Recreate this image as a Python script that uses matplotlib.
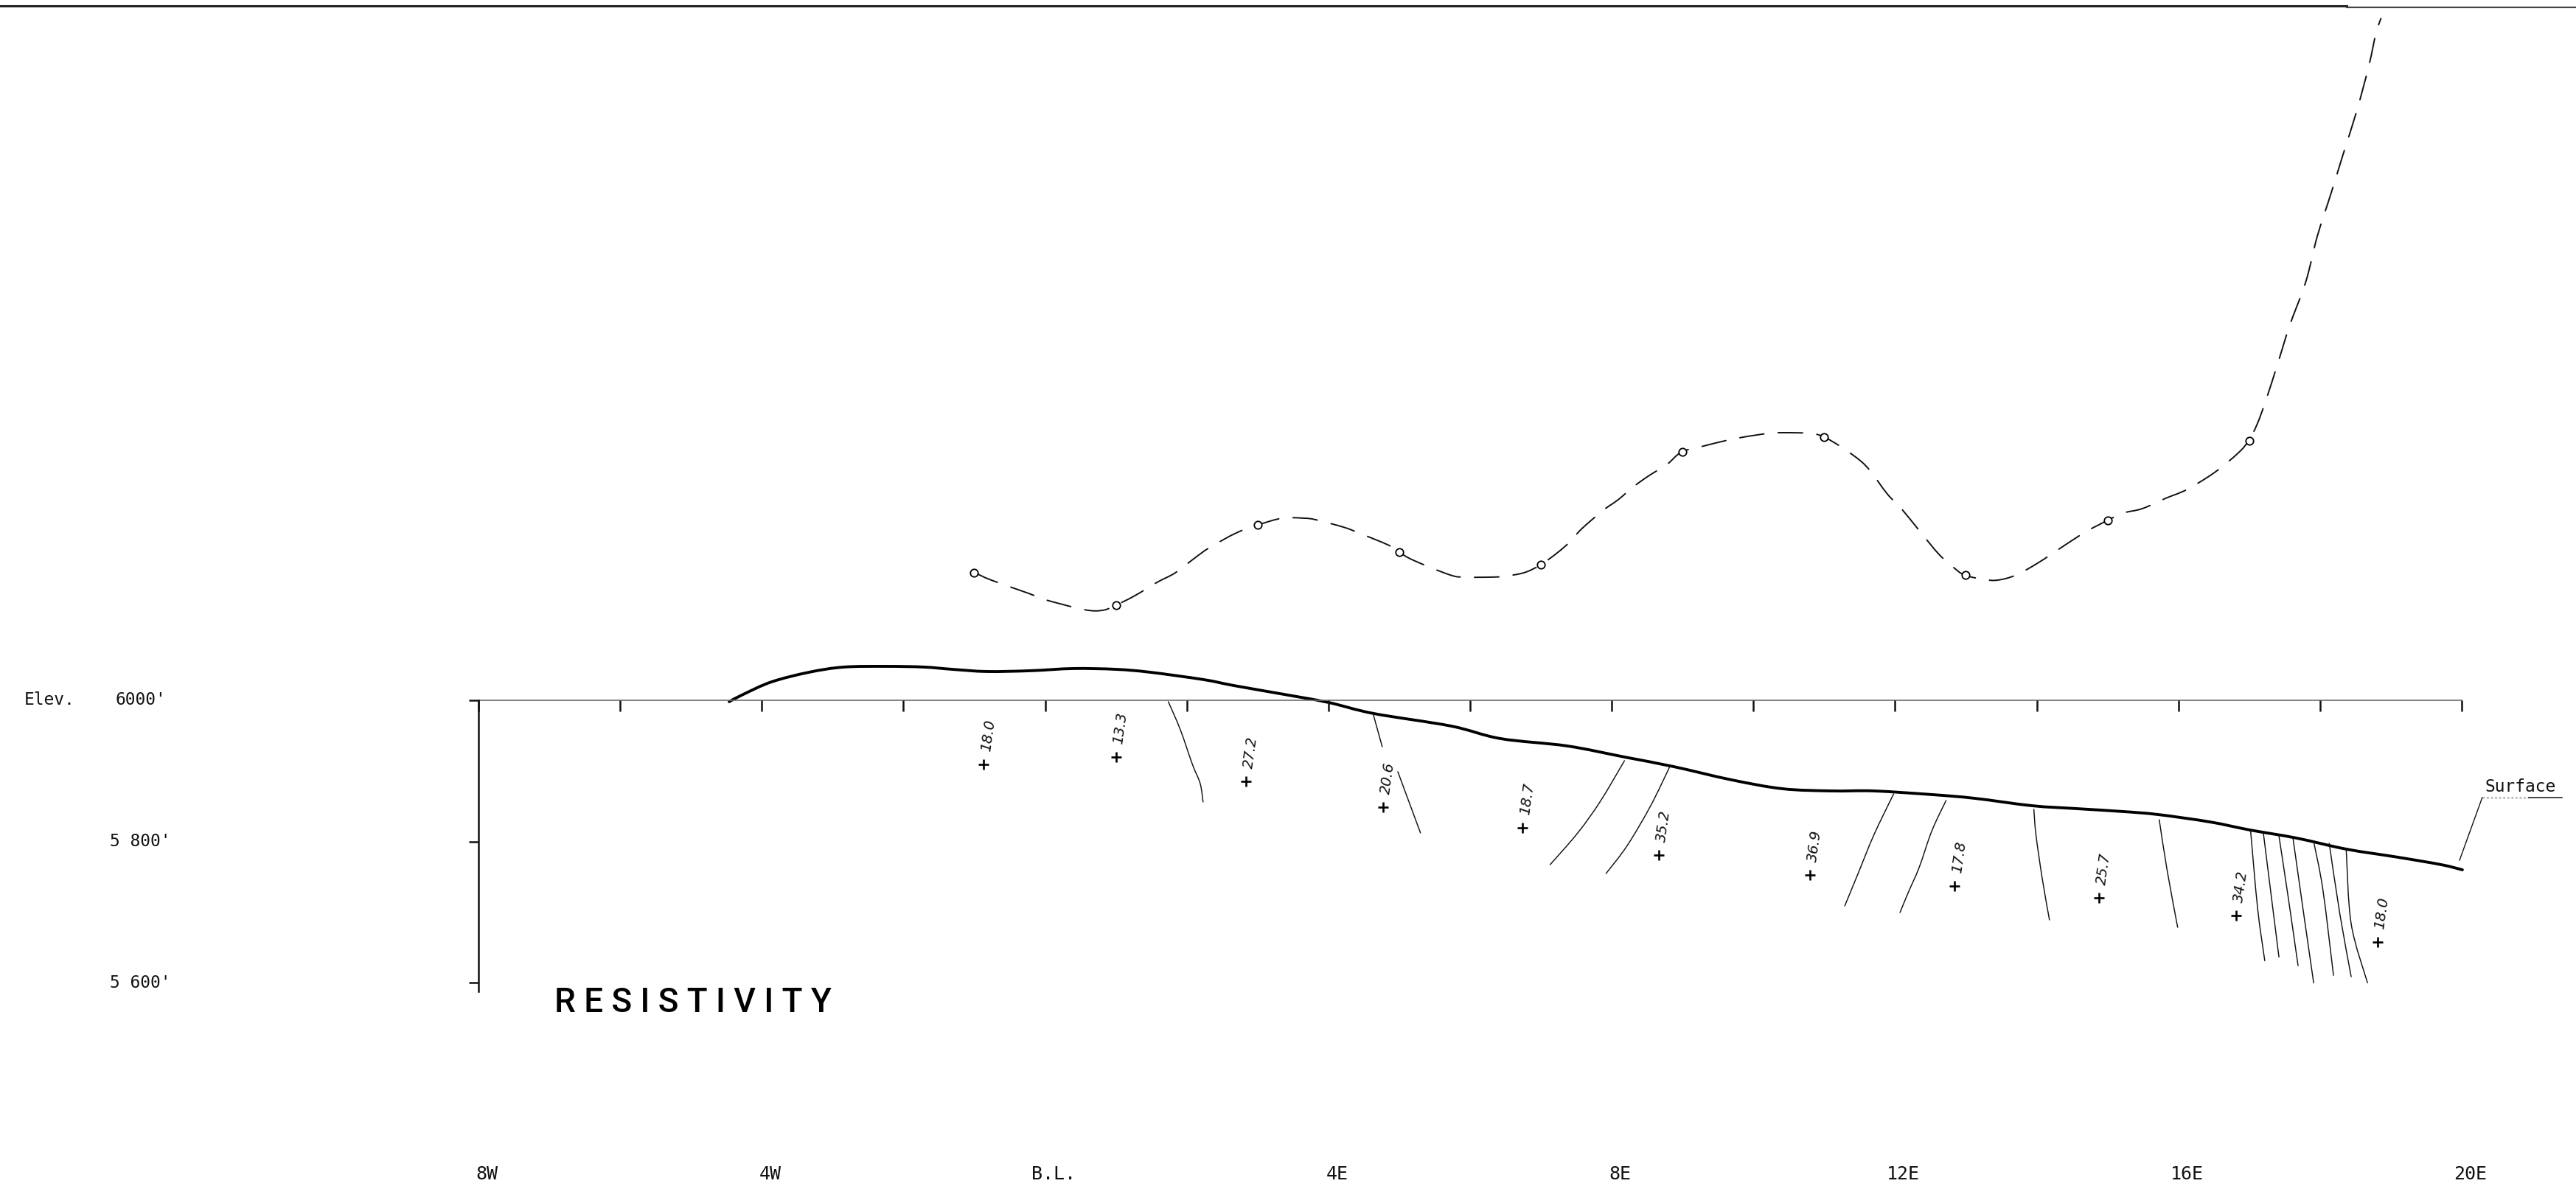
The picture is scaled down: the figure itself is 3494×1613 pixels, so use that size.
import matplotlib
matplotlib.use("Agg")
import numpy as np
import matplotlib.pyplot as plt
from matplotlib.path import Path
from matplotlib.patches import PathPatch
from matplotlib.transforms import blended_transform_factory

plt.rcParams["font.family"] = ["DejaVu Sans"]

# ---- traverse geometry -------------------------------------------------
# stations in hundreds of feet (W negative, E positive), elevations in feet
station_ticks = [-8, -6, -4, -2, 0, 2, 4, 6, 8, 10, 12, 14, 16, 18, 20]
station_label_pos = [-8, -4, 0, 4, 8, 12, 16, 20]
station_labels = ["8W", "4W", "B.L.", "4E", "8E", "12E", "16E", "20E"]

elev_ticks = [6000, 5800, 5600]
elev_labels = ["6000'", "5 800'", "5 600'"]

# ground surface profile
surface_station = [-4.46, -4.26, -3.86, -3.33, -2.84, -2.23, -1.71, -1.31, -0.82,
                   -0.21, 0.40, 1.00, 1.48, 2.24, 2.66, 3.37, 4.00, 4.64, 5.73,
                   6.43, 7.37, 8.18, 8.87, 9.69, 10.41, 11.10, 11.70, 12.52,
                   13.12, 13.93, 14.55, 15.22, 15.71, 16.44, 17.01, 17.67,
                   18.37, 19.10, 19.71, 20.01]
surface_elev = [5998.0, 6008.4, 6026.1, 6039.7, 6047.0, 6048.0, 6047.0, 6043.8,
                6040.7, 6041.8, 6044.9, 6043.8, 6039.7, 6029.2, 6020.9, 6008.4,
                5996.9, 5981.2, 5963.5, 5945.7, 5935.3, 5919.6, 5906.1, 5887.3,
                5874.7, 5871.6, 5871.6, 5866.4, 5861.2, 5850.7, 5846.6, 5842.4,
                5838.2, 5827.8, 5816.3, 5804.8, 5789.2, 5777.7, 5767.2, 5759.9]

# plotted resistivity readings
resist_station = [-0.87, 1.00, 2.84, 4.77, 6.74, 8.67, 10.80, 12.84, 14.88, 16.82, 18.81]
resist_elev = [5909.2, 5919.6, 5885.2, 5848.6, 5819.4, 5780.8, 5752.6, 5737.0,
               5720.3, 5695.2, 5657.6]
resist_labels = ["18.0", "13.3", "27.2", "20.6", "18.7", "35.2", "36.9", "17.8",
                 "25.7", "34.2", "18.0"]

# boundaries between resistivity zones (station, elevation)
bnd_1 = ([1.74, 1.91, 2.08, 2.19, 2.23], [5997.9, 5958.2, 5909.2, 5882.0, 5855.9])
bnd_2a = ([4.63, 4.76], [5981.2, 5934.2])
bnd_2b = ([4.98, 5.30], [5898.8, 5812.1])
bnd_3 = ([8.18, 7.84, 7.52, 7.13], [5914.4, 5857.0, 5812.1, 5767.2])
bnd_4 = ([8.82, 8.55, 8.22, 7.92], [5906.1, 5850.7, 5794.4, 5754.7])
bnd_5 = ([11.98, 11.70, 11.47, 11.29], [5867.4, 5809.0, 5752.6, 5708.8])
bnd_6 = ([12.72, 12.52, 12.34, 12.19, 12.07], [5858.0, 5815.2, 5763.1, 5728.6, 5699.4])
bnd_7 = ([13.96, 13.99, 14.08, 14.18], [5845.5, 5809.0, 5746.4, 5688.9])
bnd_8 = ([15.73, 15.84, 15.99], [5830.9, 5759.9, 5678.5])
bnd_9 = ([17.02, 17.12, 17.22], [5814.9, 5704.3, 5631.2])
bnd_10 = ([17.20, 17.30, 17.42], [5812.1, 5732.1, 5636.4])
bnd_11 = ([17.42, 17.55, 17.69], [5807.9, 5721.6, 5624.2])
bnd_12 = ([17.62, 17.77, 17.91], [5803.5, 5697.3, 5599.9])
bnd_13 = ([17.91, 18.04, 18.19], [5799.9, 5732.1, 5610.4])
bnd_14 = ([18.13, 18.28, 18.44], [5797.5, 5697.3, 5608.6])
bnd_15 = ([18.37, 18.44, 18.67], [5788.4, 5683.4, 5599.9])
boundaries = [bnd_1, bnd_2a, bnd_2b, bnd_3, bnd_4, bnd_5, bnd_6, bnd_7, bnd_8,
              bnd_9, bnd_10, bnd_11, bnd_12, bnd_13, bnd_14, bnd_15]

# upper profile: readings at odd stations and the curve drawn through them
profile_station = [-1, 1, 3, 5, 7, 9, 11, 13, 15, 17]
profile_value = [51.83, 49.10, 55.86, 53.56, 52.51, 62.00, 63.24, 51.64, 56.23, 62.93]

curve_station = [-0.99, -0.76, -0.23, -0.02, 0.55, 0.81, 1.00, 1.27, 1.58, 1.84,
                 2.10, 2.32, 2.70, 3.01, 3.35, 3.65, 3.82, 4.21, 4.43, 4.86,
                 5.00, 5.20, 5.72, 5.94, 6.28, 6.46, 6.76, 7.00, 7.23, 7.41,
                 7.57, 7.87, 8.09, 8.31, 8.53, 8.78, 8.99, 9.30, 9.60, 9.86,
                 10.21, 10.42, 10.81, 11.00, 11.25, 11.51, 11.66, 11.89, 12.09,
                 12.36, 12.62, 12.83, 12.98, 13.25, 13.45, 13.71, 14.03, 14.39,
                 14.70, 15.00, 15.22, 15.49, 15.82, 16.12, 16.51, 16.85, 16.99,
                 17.11, 17.24, 17.41, 17.57, 17.80, 17.96, 18.16, 18.33, 18.52,
                 18.69, 18.79, 18.86]
curve_value = [51.83, 51.21, 50.09, 49.60, 48.73, 48.67, 49.10, 49.91, 51.02, 51.83,
               53.01, 53.94, 55.18, 55.86, 56.42, 56.42, 56.29, 55.67, 55.18, 54.12,
               53.56, 52.88, 51.64, 51.46, 51.46, 51.52, 51.83, 52.51, 53.50, 54.43,
               55.49, 57.04, 57.97, 59.08, 60.01, 60.94, 62.00, 62.49, 62.93, 63.24,
               63.55, 63.61, 63.55, 63.24, 62.37, 61.25, 60.32, 58.46, 57.22,
               55.24, 53.38, 52.26, 51.64, 51.27, 51.21, 51.64, 52.70, 54.12,
               55.30, 56.23, 56.85, 57.22, 58.09, 58.83, 60.26, 61.93, 62.93,
               64.29, 66.40, 69.56, 72.60, 76.32, 80.10, 83.82, 87.10, 90.70,
               94.48, 97.21, 98.45]


def smooth_path(xs, ys):
    """Bezier path passing through every given vertex (Catmull-Rom tangents)."""
    p = np.column_stack([xs, ys]).astype(float)
    verts = [p[0]]
    codes = [Path.MOVETO]
    n = len(p)
    for i in range(n - 1):
        p0 = p[i - 1] if i > 0 else p[i]
        p1, p2 = p[i], p[i + 1]
        p3 = p[i + 2] if i + 2 < n else p[i + 1]
        verts += [p1 + (p2 - p0) / 6.0, p2 - (p3 - p1) / 6.0, p2]
        codes += [Path.CURVE4] * 3
    return Path(verts, codes)


# ---- figure -------------------------------------------------------------
fig = plt.figure(figsize=(34.94, 16.13), dpi=100)
ax = fig.add_axes([0, 0, 1, 1])
ax.set_xlim(-14.755, 21.614)
ax.set_ylim(5307.9, 6991.6)
ax.axis("off")

ink = "#111111"
lettering = ["DejaVu Sans Mono"]

# sheet border along the top
ax.plot([0, 0.911], [0.9952, 0.9952], transform=ax.transAxes, color="#222222", lw=2.2)
ax.plot([0.911, 1.0], [0.9938, 0.9938], transform=ax.transAxes, color="#444444", lw=1.6)

# horizontal datum line at 6000 ft with station ticks
ax.plot([station_ticks[0], station_ticks[-1]], [6000, 6000], color="#6e6e6e", lw=1.2)
ax.vlines(station_ticks, 6000 - 15.5, 6000, color=ink, lw=1.8)

# vertical elevation scale
ax.plot([-8, -8], [6000, 5588], color=ink, lw=1.8)
ax.hlines(elev_ticks, -8.13, -8, color=ink, lw=1.8)

trans_ax_x = blended_transform_factory(ax.transAxes, ax.transData)
ax.text(0.0095, 6000, "Elev.", transform=trans_ax_x, ha="left", va="center",
        fontsize=16.5, family=lettering, color=ink)
for e, lab in zip(elev_ticks, elev_labels):
    ax.text(0.0545, e, lab, transform=trans_ax_x, ha="center", va="center",
            fontsize=16.5, family=lettering, color=ink)

for s, lab in zip(station_label_pos, station_labels):
    ax.text(s + 0.12, 5329, lab, ha="center", va="center", fontsize=18,
            family=lettering, color=ink)

# ground surface
ax.add_patch(PathPatch(smooth_path(surface_station, surface_elev), fill=False,
                       edgecolor="black", lw=2.8, capstyle="round", joinstyle="round"))

# zone boundaries
for bs, be in boundaries:
    ax.add_patch(PathPatch(smooth_path(bs, be), fill=False, edgecolor=ink, lw=1.05,
                           capstyle="round"))

# resistivity readings
ax.plot(resist_station, resist_elev, linestyle="none", marker="+", ms=9.5,
        mew=1.9, color="black")
for s, e, lab in zip(resist_station, resist_elev, resist_labels):
    ax.annotate(lab, xy=(s, e), xytext=(2.5, 13), textcoords="offset points",
                rotation=82, rotation_mode="anchor", ha="left", va="center",
                fontsize=14, style="italic", color=ink)

# surface call-out
ax.plot([19.97, 20.29], [5773.5, 5862.2], color=ink, lw=1.0)
ax.plot([20.29, 20.95], [5862.2, 5862.2], color="#777777", lw=1.0, linestyle=(0, (2, 2)))
ax.plot([20.95, 21.42], [5862.2, 5862.2], color=ink, lw=1.1)
ax.text(20.33, 5871, "Surface", ha="left", va="baseline", fontsize=16.5,
        family=lettering, color=ink)

ax.text(-6.93, 5558.5, "R E S I S T I V I T Y", family=["Roboto", "DejaVu Sans"],
        fontweight="medium", ha="left", va="baseline", fontsize=33, color="black")

# upper profile on its own vertical scale
ax2 = ax.twinx()
ax2.set_ylim(0, 100)
ax2.axis("off")
ax2.add_patch(PathPatch(smooth_path(curve_station, curve_value), fill=False,
                        edgecolor=ink, lw=1.4, linestyle=(0, (17, 10)),
                        capstyle="round"))
ax2.plot(profile_station, profile_value, linestyle="none", marker="o", ms=7.5,
         mfc="white", mec="black", mew=1.3, zorder=5)

fig.savefig("out.png", dpi=100, facecolor="white")
